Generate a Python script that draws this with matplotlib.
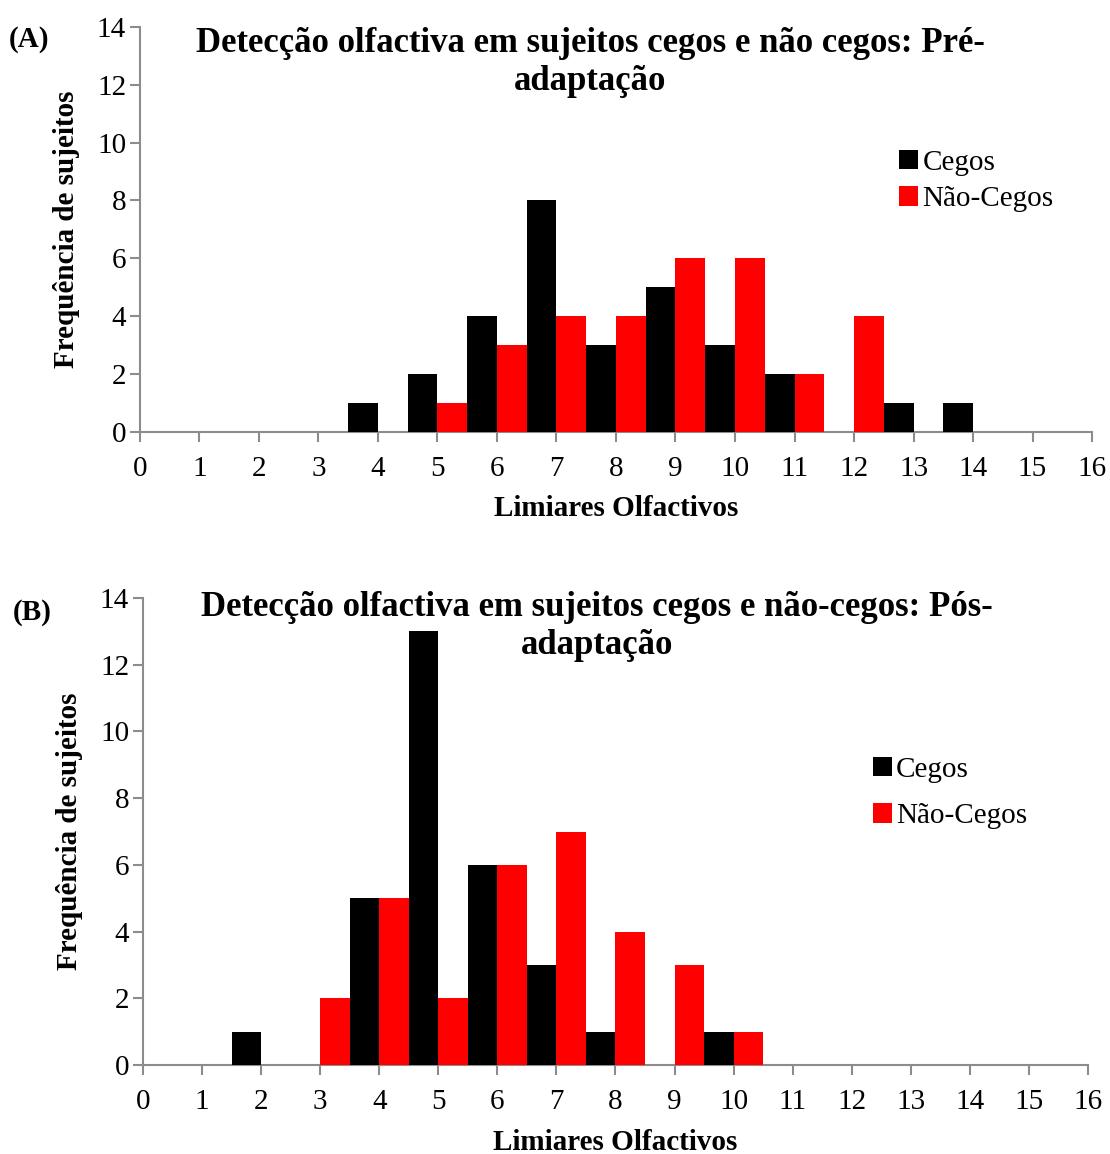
import matplotlib
matplotlib.use('Agg')
import matplotlib.pyplot as plt

plt.rcParams['font.family'] = ['Liberation Serif', 'DejaVu Serif']

# Painel A - pré-adaptação
a_cegos_x = [4, 5, 6, 7, 8, 9, 10, 11, 13, 14]
a_cegos_y = [1, 2, 4, 8, 3, 5, 3, 2, 1, 1]
a_ncegos_x = [5, 6, 7, 8, 9, 10, 11, 12]
a_ncegos_y = [1, 3, 4, 4, 6, 6, 2, 4]

# Painel B - pós-adaptação
b_cegos_x = [2, 4, 5, 6, 7, 8, 10]
b_cegos_y = [1, 5, 13, 6, 3, 1, 1]
b_ncegos_x = [3, 4, 5, 6, 7, 8, 9, 10]
b_ncegos_y = [2, 5, 2, 6, 7, 4, 3, 1]

xticks = list(range(0, 17))
yticks = list(range(0, 15, 2))

gray = '#8c8c8c'

fig = plt.figure(figsize=(11.10, 11.54), dpi=100)
ax1 = fig.add_axes([0.1261, 0.6257, 0.8577, 0.351])
ax2 = fig.add_axes([0.1288, 0.0771, 0.8514, 0.4047])


def desenha(ax, cx, cy, nx, ny, titulo, letra, leg_pos, leg_sp, tit_x, tit_y):
    ax.bar([x - 0.25 for x in cx], cy, width=0.5, color='black', label='Cegos', zorder=3)
    ax.bar([x + 0.25 for x in nx], ny, width=0.5, color='#ff0000', label='Não-Cegos', zorder=3)
    ax.set_xlim(0, 16)
    ax.set_ylim(0, 14)
    ax.set_xticks(xticks)
    ax.set_yticks(yticks)
    ax.tick_params(axis='both', labelsize=21, color=gray, width=1.5, length=7)
    ax.tick_params(axis='x', pad=10)
    ax.tick_params(axis='y', pad=3)
    for s in ['top', 'right']:
        ax.spines[s].set_visible(False)
    for s in ['left', 'bottom']:
        ax.spines[s].set_color(gray)
        ax.spines[s].set_linewidth(1.5)
    ax.set_xlabel('Limiares Olfactivos', fontsize=21, fontweight='bold', labelpad=10)
    ax.set_ylabel('Frequência de sujeitos', fontsize=21, fontweight='bold', labelpad=12)
    ax.text(tit_x, tit_y, titulo, transform=ax.transAxes, ha='center', va='top',
            fontsize=25, fontweight='bold', linespacing=1.2)
    ax.text(-0.138, 0.97, letra, transform=ax.transAxes, ha='left', va='center',
            fontsize=21, fontweight='bold')
    ax.legend(loc='upper left', bbox_to_anchor=leg_pos, frameon=False,
              fontsize=21, handlelength=0.65, handleheight=0.65,
              handletextpad=0.15, labelspacing=leg_sp, borderaxespad=0)


desenha(ax1, a_cegos_x, a_cegos_y, a_ncegos_x, a_ncegos_y,
        'Detecção olfactiva em sujeitos cegos e não cegos: Pré-\nadaptação',
        '(A)', (0.785, 0.725), 0.35, 0.473, 1.0)
desenha(ax2, b_cegos_x, b_cegos_y, b_ncegos_x, b_ncegos_y,
        'Detecção olfactiva em sujeitos cegos e não-cegos: Pós-\nadaptação',
        '(B)', (0.76, 0.685), 0.7, 0.48, 1.014)

fig.savefig('out.png', dpi=100)
